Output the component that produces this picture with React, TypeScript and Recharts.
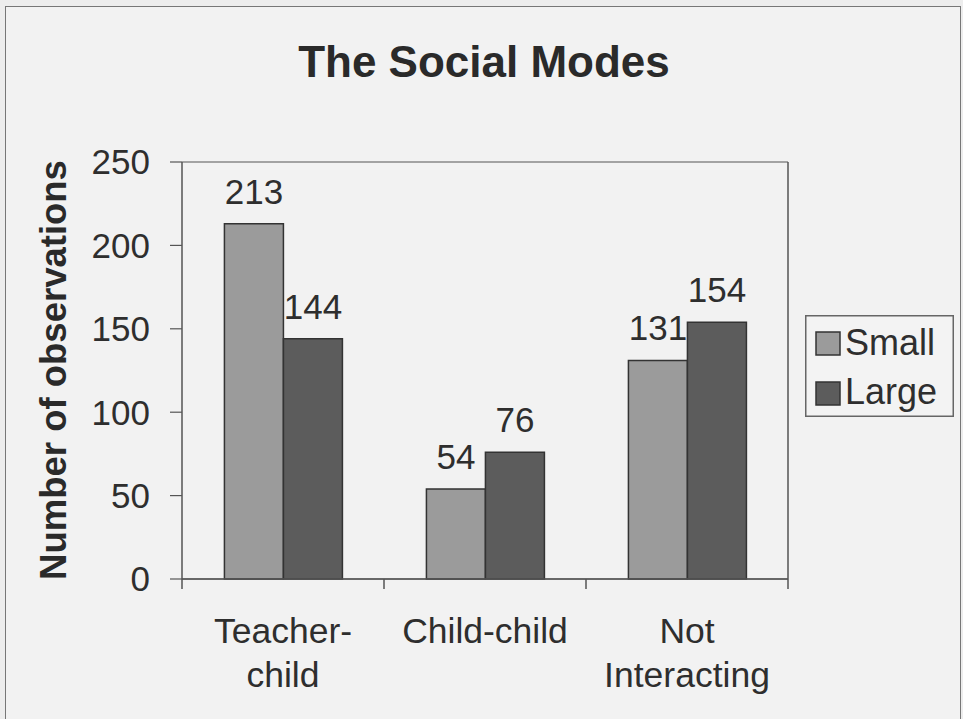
import React from 'react';
import { BarChart, Bar, XAxis, YAxis, CartesianGrid, LabelList, Customized } from 'recharts';

const categories = ['Teacher-child', 'Child-child', 'Not Interacting'];
const categoryLines = [['Teacher-', 'child'], ['Child-child'], ['Not', 'Interacting']];
const smallValues = [213, 54, 131];
const largeValues = [144, 76, 154];
const yTicks = [0, 50, 100, 150, 200, 250];
const boundaryTicks = [0, 1, 2, 3];
const seriesNames = ['Small', 'Large'];
const seriesColors = ['#9b9b9b', '#5c5c5c'];

const data = categories.map((name, i) => ({ name, small: smallValues[i], large: largeValues[i], slot: i + 0.5 }));

const FONT = '"Liberation Sans", Arial, Helvetica, sans-serif';
const W = 963;
const H = 719;

const CategoryTick = (props: any) => {
  const { x, y, payload } = props;
  const lines = categoryLines[payload.index] || [payload.value];
  return (
    <g>
      {lines.map((t, k) => (
        <text key={k} x={x} y={y + 46 + k * 44} textAnchor="middle" fontSize={35.5} fill="#2e2e2e" fontFamily={FONT}>
          {t}
        </text>
      ))}
    </g>
  );
};

const EmptyTick = () => <g />;

const LegendBox = () => (
  <div style={{ position: 'absolute', left: 805, top: 315, width: 149, height: 102 }}>
    <svg width={149} height={102}>
      <rect x={0.75} y={0.75} width={147.5} height={100.5} fill="#f3f3f3" stroke="#666" strokeWidth={1.5} />
      {seriesNames.map((n, i) => (
        <g key={n}>
          <rect x={11} y={17 + i * 50} width={24} height={23} fill={seriesColors[i]} stroke="#333" strokeWidth={1.5} />
          <text x={40} y={40 + i * 49} fontSize={36} fill="#2e2e2e" fontFamily={FONT}>{n}</text>
        </g>
      ))}
    </svg>
  </div>
);

const Title = () => (
  <text x={484} y={77} textAnchor="middle" fontSize={44} fontWeight="bold" fill="#2a2a2a" fontFamily={FONT}>
    The Social Modes
  </text>
);

const YTitle = () => (
  <text x={0} y={0} transform="translate(66,370) rotate(-90)" textAnchor="middle" fontSize={36.5} fontWeight="bold" fill="#2a2a2a" fontFamily={FONT}>
    Number of observations
  </text>
);

export default function App() {
  return (
    <div style={{ position: 'absolute', left: 0, top: 0, width: W, height: H, background: '#ededed', overflow: 'hidden' }}>
      <div style={{ position: 'absolute', left: 5, top: 6, width: 956, height: 730, border: '1.5px solid #777', boxSizing: 'border-box', background: '#f2f2f2' }} />
      <div style={{ position: 'absolute', left: 0, top: 0 }}>
        <BarChart width={W} height={H} data={data} margin={{ top: 162, right: 174, bottom: 0, left: 0 }} barCategoryGap="21%" barGap={0}>
          <CartesianGrid horizontal={true} vertical={false} stroke="#555" strokeWidth={1.2} />
          <XAxis xAxisId="b" type="number" dataKey="slot" domain={[0, 3]} ticks={boundaryTicks} interval={0} tick={EmptyTick} tickLine={{ stroke: '#555', strokeWidth: 1.5 }} tickSize={10} axisLine={{ stroke: '#555', strokeWidth: 1.5 }} height={10} allowDataOverflow />
          <XAxis xAxisId="c" dataKey="name" tick={CategoryTick} tickLine={false} axisLine={false} height={130} interval={0} />
          <YAxis yAxisId="l" domain={[0, 250]} ticks={yTicks} width={182} tickSize={12} tickMargin={20} tick={{ fontSize: 35, fill: '#2e2e2e', fontFamily: FONT }} tickLine={{ stroke: '#555', strokeWidth: 1.2 }} axisLine={{ stroke: '#555', strokeWidth: 1.5 }} interval={0} />
          <YAxis yAxisId="r" orientation="right" domain={[0, 250]} ticks={yTicks} width={1} tick={false} tickLine={false} axisLine={{ stroke: '#555', strokeWidth: 1.5 }} />
          <Bar xAxisId="c" yAxisId="l" dataKey="small" name={seriesNames[0]} fill={seriesColors[0]} stroke="#333" strokeWidth={1.5} isAnimationActive={false}>
            <LabelList dataKey="small" position="top" offset={20} fontSize={35} fill="#2e2e2e" fontFamily={FONT} />
          </Bar>
          <Bar xAxisId="c" yAxisId="l" dataKey="large" name={seriesNames[1]} fill={seriesColors[1]} stroke="#333" strokeWidth={1.5} isAnimationActive={false}>
            <LabelList dataKey="large" position="top" offset={20} fontSize={35} fill="#2e2e2e" fontFamily={FONT} />
          </Bar>
          <Customized component={Title} />
          <Customized component={YTitle} />
        </BarChart>
      </div>
      <LegendBox />
    </div>
  );
}
